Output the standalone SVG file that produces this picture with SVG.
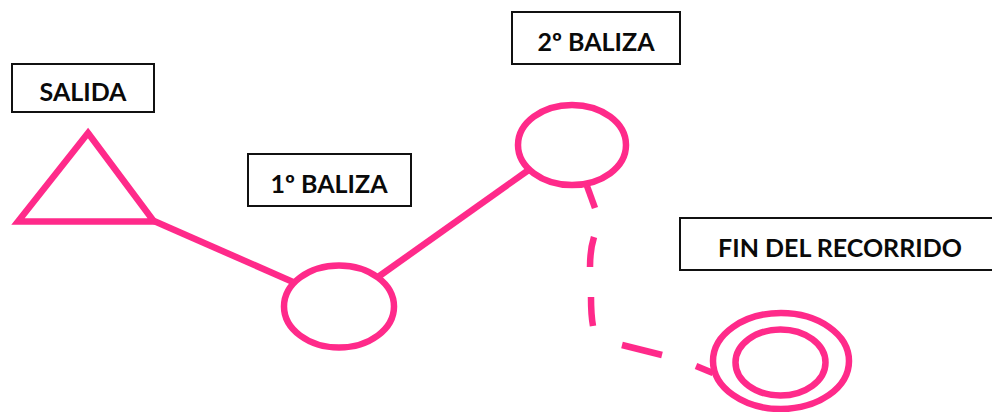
<svg xmlns="http://www.w3.org/2000/svg" width="992" height="412" viewBox="0 0 992 412">
<style>
.b{fill:#fff;stroke:#111;stroke-width:2}
.t{font-family:"Lato","Carlito","Open Sans",sans-serif;font-weight:700;font-size:25px;fill:#0a0a0a;text-anchor:middle}
.p{fill:none;stroke:#ff2a8a;stroke-width:6.5;stroke-linejoin:miter}
</style>
<rect width="992" height="412" fill="#fff"/>
<g id="connectors">
<path class="p" d="M154 221L293 282"/>
<path class="p" d="M378 277L530 169"/>
<path class="p" d="M587 186L595 208"/>
<path class="p" d="M594 237Q590 250 590 267"/>
<path class="p" d="M591 297Q591 315 593 326"/>
<path class="p" d="M622 345L662 355"/>
<path class="p" d="M696 366L713 373"/>
</g>
<g id="salida"><rect class="b" x="12" y="64" width="142" height="48"/><text class="t" x="83" y="101">SALIDA</text></g>
<g id="baliza1"><rect class="b" x="248" y="154" width="163" height="52"/><text class="t" x="329" y="193">1º BALIZA</text></g>
<g id="baliza2"><rect class="b" x="512" y="12" width="168" height="52"/><text class="t" x="596" y="51">2º BALIZA</text></g>
<g id="fin"><path class="b" d="M992 218H680V270H992"/><text class="t" x="840" y="257">FIN DEL RECORRIDO</text></g>
<g id="start"><path class="p" d="M88 133L154 221.500H18Z"/></g>
<g id="n1"><ellipse class="p" cx="339" cy="306.500" rx="55" ry="41"/></g>
<g id="n2"><ellipse class="p" cx="572" cy="145" rx="54" ry="40"/></g>
<g id="end"><ellipse class="p" cx="781" cy="361" rx="68" ry="48"/><ellipse class="p" cx="780.500" cy="362.500" rx="45" ry="33" stroke-width="5.500"/></g>
</svg>
